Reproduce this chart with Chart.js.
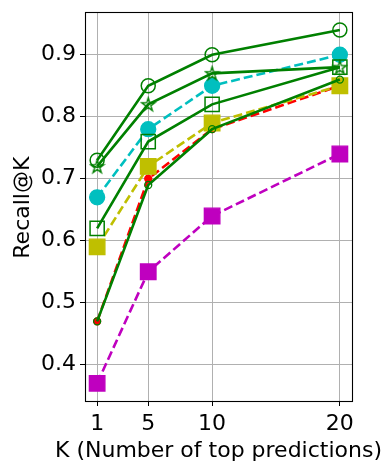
<!DOCTYPE html>
<html><head><meta charset="utf-8">
<script src="https://cdn.jsdelivr.net/npm/chart.js@4"></script>
<style>html,body{margin:0;padding:0;background:#fff}canvas{display:block}</style>
</head><body>
<canvas id="c" width="392" height="472"></canvas>
<script>
const kValues = [1, 5, 10, 20];
const xTickValues = [1, 5, 10, 20];
const yTickValues = [0.4, 0.5, 0.6, 0.7, 0.8, 0.9];
const seriesCircleOpen = [0.73, 0.85, 0.90, 0.94];
const seriesStar = [0.72, 0.82, 0.87, 0.88];
const seriesSquareOpen = [0.62, 0.76, 0.82, 0.88];
const seriesGreenSmall = [0.47, 0.69, 0.78, 0.86];
const seriesCyan = [0.67, 0.78, 0.85, 0.90];
const seriesYellow = [0.59, 0.72, 0.79, 0.85];
const seriesRed = [0.47, 0.70, 0.78, 0.85];
const seriesMagenta = [0.37, 0.55, 0.64, 0.74];
const xTitle = 'K (Number of top predictions)';
const yTitle = 'Recall@K';

const G = '#008000', C = '#00bfbf', Y = '#bfbf00', R = '#ff0000', M = '#bf00bf';
const FONT = 'DejaVu Sans';

function starMarker(color, size) {
  const cv = document.createElement('canvas');
  cv.width = size; cv.height = size;
  const ctx = cv.getContext('2d');
  const cx = size / 2, cy = size / 2 + 0.5;
  const ro = size / 2 - 1.5, ri = ro * 0.38;
  ctx.beginPath();
  for (let i = 0; i < 10; i++) {
    const r = i % 2 === 0 ? ro : ri;
    const a = -Math.PI / 2 + i * Math.PI / 5;
    const px = cx + r * Math.cos(a), py = cy + r * Math.sin(a);
    if (i === 0) ctx.moveTo(px, py); else ctx.lineTo(px, py);
  }
  ctx.closePath();
  ctx.strokeStyle = color; ctx.lineWidth = 1.4; ctx.stroke();
  return cv;
}

function pts(arr) { return kValues.map((k, i) => ({x: k, y: arr[i]})); }

function ds(data, color, opts) {
  return Object.assign({
    data: pts(data), borderColor: color, backgroundColor: color,
    pointBorderColor: color, pointBackgroundColor: color,
    borderWidth: 2.6, tension: 0, fill: false, pointBorderWidth: 1.3,
    pointHoverRadius: 0
  }, opts);
}

const datasets = [
  ds(seriesCircleOpen, G, {pointStyle: 'circle', pointRadius: 7, pointBackgroundColor: 'rgba(0,0,0,0)', pointBorderWidth: 1.5}),
  ds(seriesStar, G, {pointStyle: starMarker(G, 17), pointRadius: 8}),
  ds(seriesSquareOpen, G, {pointStyle: 'rect', pointRadius: 10, pointBackgroundColor: 'rgba(0,0,0,0)', pointBorderWidth: 1.5}),
  ds(seriesGreenSmall, G, {pointStyle: 'circle', pointRadius: 3.5, pointBackgroundColor: 'rgba(0,0,0,0)', pointBorderWidth: 1.3}),
  ds(seriesCyan, C, {pointStyle: 'circle', pointRadius: 7.5, borderDash: [9, 4]}),
  ds(seriesYellow, Y, {pointStyle: 'rect', pointRadius: 11, borderDash: [9, 4]}),
  ds(seriesRed, R, {pointStyle: 'circle', pointRadius: 3.5, borderDash: [9, 4]}),
  ds(seriesMagenta, M, {pointStyle: 'rect', pointRadius: 11, borderDash: [9, 4]})
];

const framePlugin = {
  id: 'frame',
  afterDatasetsDraw(chart) {
    const a = chart.chartArea, ctx = chart.ctx;
    ctx.save();
    ctx.strokeStyle = '#000'; ctx.lineWidth = 1.1;
    ctx.strokeRect(Math.round(a.left) + 0.5, Math.round(a.top) + 0.5,
      Math.round(a.right - a.left), Math.round(a.bottom - a.top));
    ctx.restore();
  },
  afterDraw(chart) {
    const a = chart.chartArea, ctx = chart.ctx;
    ctx.save();
    ctx.fillStyle = '#000';
    ctx.font = '22px "' + FONT + '"';
    ctx.textAlign = 'center';
    ctx.textBaseline = 'alphabetic';
    ctx.fillText(xTitle, (a.left + a.right) / 2, 457);
    ctx.translate(29, (a.top + a.bottom) / 2 + 1);
    ctx.rotate(-Math.PI / 2);
    ctx.fillText(yTitle, 0, 0);
    ctx.restore();
  }
};

new Chart(document.getElementById('c'), {
  type: 'line',
  data: {datasets},
  plugins: [framePlugin],
  options: {
    responsive: false, animation: false, devicePixelRatio: 1,
    layout: {padding: {left: 0, right: 40, top: 10, bottom: 0}},
    plugins: {legend: {display: false}, tooltip: {enabled: false}},
    events: [],
    scales: {
      x: {
        type: 'linear', min: 0.05, max: 20.95,
        afterBuildTicks: s => { s.ticks = xTickValues.map(v => ({value: v})); },
        afterFit: s => { s.height = 71; s.paddingLeft = 0; s.paddingRight = 0; },
        grid: {color: '#b0b0b0', lineWidth: 1, tickColor: '#000', tickLength: 5, drawTicks: true},
        border: {display: false},
        ticks: {color: '#000', font: {family: FONT, size: 22}, padding: 5, maxRotation: 0, autoSkip: false,
          callback: v => String(v)},
        title: {display: false}
      },
      y: {
        type: 'linear', min: 0.3415, max: 0.9685,
        afterBuildTicks: s => { s.ticks = yTickValues.map(v => ({value: v})); },
        afterFit: s => { s.width = 85; s.paddingTop = 0; s.paddingBottom = 0; },
        grid: {color: '#b0b0b0', lineWidth: 1, tickColor: '#000', tickLength: 5, drawTicks: true},
        border: {display: false},
        ticks: {color: '#000', font: {family: FONT, size: 22}, padding: 4, autoSkip: false,
          callback: v => v.toFixed(1)},
        title: {display: false}
      }
    }
  }
});
</script>
</body></html>
